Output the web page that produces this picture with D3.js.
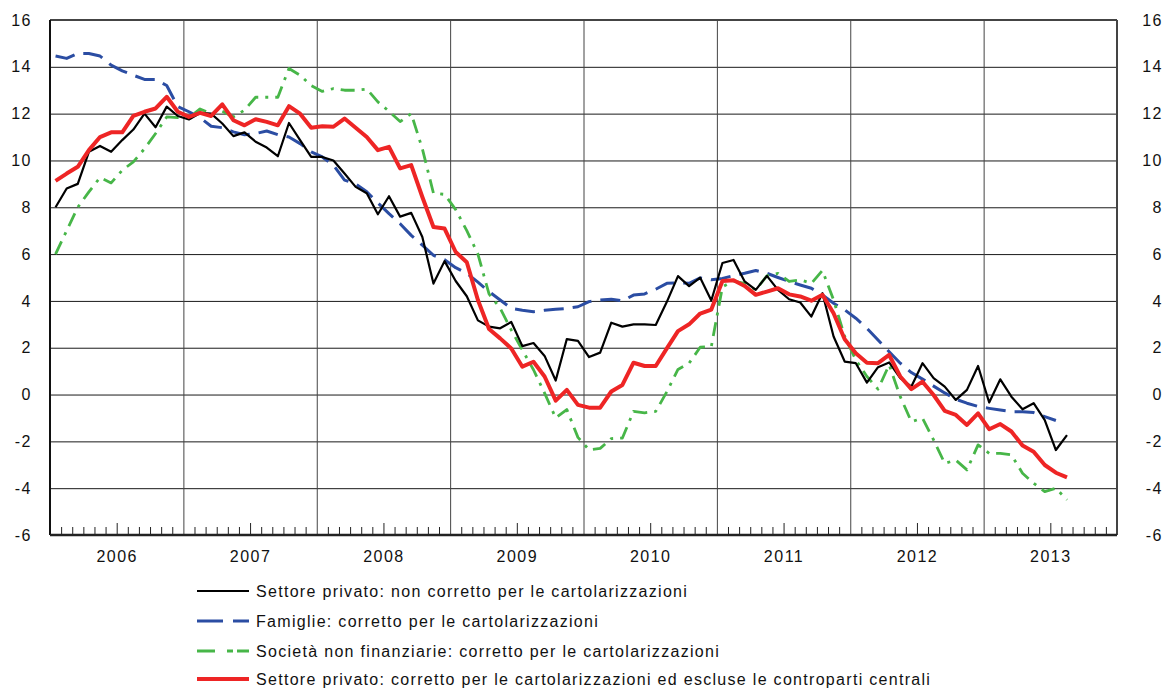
<html lang='ita'>
    <head>
        <title>
            Prestiti al settore privato
        </title>
        <script src = "https://d3js.org/d3.v7.min.js" charset="utf-8"></script>
        <style>
        body{
          margin: 0;
          background: white;
          font-family: "Liberation Sans", Arial, sans-serif;
        }
        .axis text{
          font-family: "Liberation Sans", Arial, sans-serif;
          font-size: 16px;
          fill: #111;
          letter-spacing: 1.5px;
        }
        .legend text{
          font-size: 16px;
          fill: #111;
          letter-spacing: 1.3px;
        }
        </style>
    </head>

    <body>
        <script>
            //Data: monthly values, Jan 2006 onwards
            var years = ["2006", "2007", "2008", "2009", "2010", "2011", "2012", "2013"];
            var yTicks = [-6, -4, -2, 0, 2, 4, 6, 8, 10, 12, 14, 16];

            var privatoNonCorretto = [
              8.0, 8.8, 9.0, 10.37, 10.62, 10.37, 10.87, 11.32, 12.0, 11.42, 12.3, 11.9,
              11.75, 12.03, 12.0, 11.58, 11.04, 11.2, 10.8, 10.55, 10.18, 11.6, 10.87, 10.15,
              10.15, 10.0, 9.44, 8.87, 8.6, 7.7, 8.47, 7.6, 7.76, 6.73, 4.74, 5.7,
              4.85, 4.2, 3.17, 2.9, 2.83, 3.1, 2.07, 2.2, 1.65, 0.6, 2.37, 2.29,
              1.6, 1.79, 3.07, 2.9, 3.0, 3.0, 2.97, 3.96, 5.06, 4.63, 4.99, 4.02,
              5.62, 5.75, 4.83, 4.47, 5.07, 4.47, 4.07, 3.93, 3.33, 4.33, 2.48, 1.41,
              1.34, 0.51, 1.17, 1.37, 0.7, 0.34, 1.34, 0.7, 0.34, -0.23, 0.2, 1.22,
              -0.34, 0.65, -0.09, -0.63, -0.37, -1.09, -2.37, -1.73
            ];

            var famiglie = [
              14.46, 14.36, 14.57, 14.57, 14.46, 14.07, 13.83, 13.64, 13.46, 13.46, 13.2, 12.3,
              12.08, 11.83, 11.46, 11.4, 11.22, 11.1, 11.15, 11.26, 11.1, 11.0, 10.72, 10.37,
              10.15, 9.8, 9.16, 9.0, 8.66, 8.19, 7.73, 7.3, 6.8, 6.38, 5.95, 5.76,
              5.42, 5.18, 4.8, 4.4, 4.04, 3.68, 3.6, 3.54, 3.6, 3.64, 3.68, 3.75,
              3.97, 4.04, 4.07, 4.0, 4.25, 4.3, 4.5, 4.75, 4.78, 4.75, 4.98, 4.9,
              4.96, 5.08, 5.18, 5.3, 5.18, 5.0, 4.83, 4.68, 4.54, 4.26, 3.9, 3.62,
              3.26, 2.83, 2.33, 1.83, 1.34, 0.94, 0.66, 0.36, 0.07, -0.2, -0.37, -0.51,
              -0.59, -0.66, -0.73, -0.73, -0.77, -0.94, -1.11
            ];

            var societa = [
              6.0, 7.0, 8.0, 8.66, 9.27, 9.04, 9.58, 9.94, 10.5, 11.15, 11.86, 11.83,
              11.83, 12.2, 12.0, 12.1, 11.86, 12.15, 12.7, 12.7, 12.7, 13.93, 13.64, 13.2,
              12.95, 13.07, 13.0, 13.0, 13.05, 12.5, 12.1, 11.66, 12.0, 10.5, 8.6, 8.55,
              7.9, 7.0, 6.0, 4.3, 3.69, 2.76, 1.9, 1.06, 0.06, -1.0, -0.64, -1.83,
              -2.36, -2.3, -1.88, -1.86, -0.72, -0.78, -0.72, 0.12, 1.07, 1.34, 2.02, 2.05,
              4.6, 4.85, 4.75, 4.47, 5.07, 5.18, 4.83, 4.9, 4.75, 5.3, 4.04, 2.48,
              1.48, 0.77, 0.23, 1.27, -0.09, -1.16, -1.01, -1.94, -2.94, -2.8, -3.22, -2.15,
              -2.51, -2.51, -2.58, -3.36, -3.79, -4.15, -4.0, -4.5
            ];

            var privatoCorretto = [
              9.13, 9.44, 9.73, 10.44, 11.0, 11.2, 11.2, 11.9, 12.08, 12.22, 12.72, 12.08,
              11.86, 12.03, 11.9, 12.4, 11.72, 11.5, 11.76, 11.65, 11.5, 12.32, 12.0, 11.4,
              11.46, 11.44, 11.79, 11.4, 11.0, 10.44, 10.58, 9.66, 9.8, 8.44, 7.16, 7.09,
              6.09, 5.65, 4.04, 2.8, 2.4, 1.97, 1.19, 1.4, 0.77, -0.26, 0.2, -0.44,
              -0.56, -0.56, 0.13, 0.41, 1.36, 1.22, 1.22, 1.97, 2.71, 3.0, 3.46, 3.63,
              4.85, 4.88, 4.64, 4.26, 4.4, 4.54, 4.28, 4.19, 4.01, 4.26, 3.47, 2.36,
              1.76, 1.36, 1.34, 1.69, 0.77, 0.23, 0.55, -0.02, -0.7, -0.87, -1.3, -0.8,
              -1.48, -1.26, -1.58, -2.18, -2.44, -3.01, -3.34, -3.54
            ];

            var seriesNames = [
              "Settore privato: non corretto per le cartolarizzazioni",
              "Famiglie: corretto per le cartolarizzazioni",
              "Società non finanziarie: corretto per le cartolarizzazioni",
              "Settore privato: corretto per le cartolarizzazioni ed escluse le controparti centrali"
            ];

            //Width and height of the whole visualization
            var width = 1164
            var height = 689
            var margin = {top: 20, right: 47, bottom: 154, left: 50}
            var plotW = width - margin.left - margin.right
            var plotH = height - margin.top - margin.bottom

            var svg = d3.select("body")
                        .append("svg")
                        .attr("width", width)
                        .attr("height", height);

            var g = svg.append("g")
                       .attr("transform", "translate(" + margin.left + "," + margin.top + ")");

            //Scales: x in months from Jan 2006
            var nMonths = years.length * 12
            var x = d3.scaleLinear()
                      .domain([0, nMonths])
                      .range([0, plotW]);

            var y = d3.scaleLinear()
                      .domain([-6, 16])
                      .range([plotH, 0]);

            //plain hyphen for negatives, like the original
            var fmt = function(d){ return String(d); };

            //Horizontal grid + left labels
            var yAxisL = g.append("g")
                .attr("class", "axis")
                .call(d3.axisLeft(y).tickValues(yTicks).tickSize(-plotW).tickPadding(18).tickFormat(fmt));
            yAxisL.select(".domain").remove();
            yAxisL.selectAll("line").attr("stroke", "#1a1a1a").attr("stroke-width", 1);

            //Right labels
            var yAxisR = g.append("g")
                .attr("class", "axis")
                .attr("transform", "translate(" + (plotW + 46) + ",0)")
                .call(d3.axisLeft(y).tickValues(yTicks).tickSize(0).tickPadding(0).tickFormat(fmt));
            yAxisR.select(".domain").remove();

            //Vertical year lines
            var yearLines = g.append("g")
                .call(d3.axisBottom(x).tickValues(d3.range(12, nMonths, 12)).tickSize(-plotH).tickFormat(""))
                .attr("transform", "translate(0," + plotH + ")");
            yearLines.select(".domain").remove();
            yearLines.selectAll("line").attr("stroke", "#444").attr("stroke-width", 1);

            //Monthly ticks, taller in mid-year
            var monthTicks = g.append("g")
                .attr("transform", "translate(0," + plotH + ")")
                .call(d3.axisBottom(x)
                  .tickValues(d3.range(1, nMonths).filter(function(m){ return m % 12 != 0; }))
                  .tickSize(-8).tickFormat(""));
            monthTicks.select(".domain").remove();
            monthTicks.selectAll(".tick line")
                .attr("stroke", "#222")
                .attr("y2", function(m){ return m % 12 == 6 ? -12 : -8; });

            //Year labels
            var yearAxis = g.append("g")
                .attr("class", "axis")
                .attr("transform", "translate(0," + plotH + ")")
                .call(d3.axisBottom(x)
                  .tickValues(years.map(function(d, i){ return i * 12 + 6; }))
                  .tickSize(0).tickPadding(16)
                  .tickFormat(function(d, i){ return years[i]; }));
            yearAxis.select(".domain").remove();

            //Frame
            g.append("line").attr("x1", 0).attr("x2", plotW).attr("y1", 0).attr("y2", 0)
             .attr("stroke", "#444").attr("stroke-width", 2);
            g.append("line").attr("x1", plotW).attr("x2", plotW).attr("y1", 0).attr("y2", plotH)
             .attr("stroke", "#444").attr("stroke-width", 2);
            g.append("line").attr("x1", 0).attr("x2", 0).attr("y1", 0).attr("y2", plotH)
             .attr("stroke", "#111").attr("stroke-width", 2);
            g.append("line").attr("x1", 0).attr("x2", plotW).attr("y1", plotH).attr("y2", plotH)
             .attr("stroke", "#222").attr("stroke-width", 2.5);

            //Lines
            var line = d3.line()
                         .x(function(d, i){ return x(i + 0.5); })
                         .y(function(d){ return y(d); });

            var styles = [
              {data: privatoNonCorretto, color: "#000000", w: 2.2, dash: null},
              {data: famiglie, color: "#2B4DA3", w: 3, dash: "20,9"},
              {data: societa, color: "#47B648", w: 2.8, dash: "14,7,3,7"},
              {data: privatoCorretto, color: "#EE2525", w: 4, dash: null}
            ];

            var drawOrder = [1, 2, 0, 3];
            drawOrder.forEach(function(k){
              var s = styles[k];
              g.append("path")
               .datum(s.data)
               .attr("fill", "none")
               .attr("stroke", s.color)
               .attr("stroke-width", s.w)
               .attr("stroke-dasharray", s.dash)
               .attr("stroke-linejoin", "round")
               .attr("d", line);
            });

            //Legend
            var legend = svg.append("g").attr("class", "legend");
            var legendY = [591, 621, 651, 679];
            var legendDash = [null, "26,10,20,0", "18,12,6,4,12,0", null];
            seriesNames.forEach(function(name, i){
              legend.append("line")
                .attr("x1", 197).attr("x2", 249)
                .attr("y1", legendY[i]).attr("y2", legendY[i])
                .attr("stroke", styles[i].color)
                .attr("stroke-width", styles[i].w)
                .attr("stroke-dasharray", legendDash[i]);
              legend.append("text")
                .attr("x", 256)
                .attr("y", legendY[i])
                .attr("dy", "0.35em")
                .text(name);
            });
        </script>
    </body>
</html>
